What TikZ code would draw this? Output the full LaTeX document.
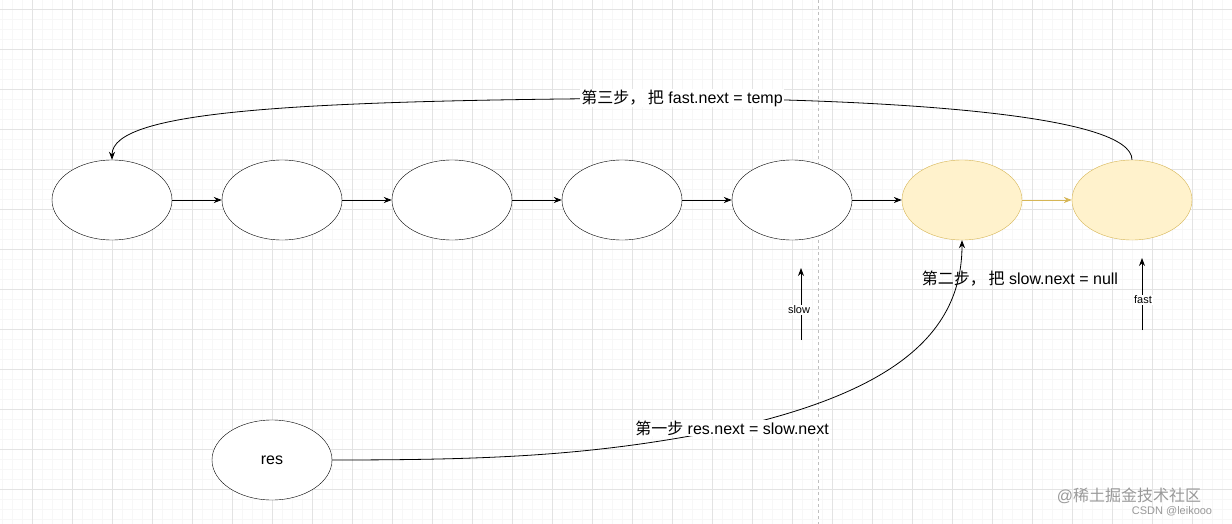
\documentclass[tikz,border=0pt]{standalone}
\usepackage{fontspec}
\setmainfont{Liberation Sans}
\newfontfamily\cjk{Noto Sans CJK SC}
\usetikzlibrary{arrows.meta,shapes.geometric}
\definecolor{yfill}{HTML}{FFF2CC}
\definecolor{ydraw}{HTML}{D6B656}
\begin{document}
\begin{tikzpicture}[x=1pt,y=-1pt,
  el/.style={draw=black,ellipse,minimum width=120pt,minimum height=80pt,inner sep=0pt,fill=white},
  yel/.style={el,draw=ydraw,fill=yfill},
  conn/.style={-{Stealth[length=8pt,width=6pt]},line width=0.8pt},
  lbl/.style={font=\fontsize{16}{18}\selectfont,fill=white,inner sep=1pt},
  sm/.style={font=\fontsize{11}{13}\selectfont,fill=white,inner sep=1pt}]
\useasboundingbox (0,0) rectangle (1232,524);
\fill[white] (0,0) rectangle (1232,524);
\foreach \i in {2,12,...,1232} \draw[black!3,line width=0.4pt] (\i,0) -- (\i,524);
\foreach \i in {9,19,...,524} \draw[black!3,line width=0.4pt] (0,\i) -- (1232,\i);
\foreach \i in {32,72,...,1232} \draw[black!11,line width=0.6pt] (\i,0) -- (\i,524);
\foreach \i in {9,49,...,524} \draw[black!11,line width=0.6pt] (0,\i) -- (1232,\i);
\draw[black!25,dashed,line width=0.5pt] (818,0) -- (818,524);
\node[el] (n1) at (112,200) {};
\node[el] (n2) at (282,200) {};
\node[el] (n3) at (452,200) {};
\node[el] (n4) at (622,200) {};
\node[el] (n5) at (792,200) {};
\node[yel] (n6) at (962,200) {};
\node[yel] (n7) at (1132,200) {};
\node[el] (res) at (272,460) {\fontsize{16}{18}\selectfont res};
\draw[conn] (n1) -- (n2);
\draw[conn] (n2) -- (n3);
\draw[conn] (n3) -- (n4);
\draw[conn] (n4) -- (n5);
\draw[conn] (n5) -- (n6);
\draw[conn,draw=ydraw] (n6) -- (n7);
\coordinate (t1) at (682,98);
\draw[conn] (n7.north) .. controls (1132,115) and (900,100) .. (t1) .. controls (300,100) and (112,110) .. (n1.north);
\node[lbl] at (t1) {{\cjk 第三步，\,把} fast.next = temp};
\coordinate (t2) at (732,428);
\draw[conn] (res.east) .. controls (500,460) and (600,455) .. (t2) .. controls (900,390) and (962,330) .. (n6.south);
\node[lbl] at (t2) {{\cjk 第一步} res.next = slow.next};
\node[lbl,fill=none] at (1020,279) {{\cjk 第二步，\,把} slow.next = null};
\coordinate (s0) at (801,340); \coordinate (s1) at (801,268);
\draw[conn] (s0) -- (s1);
\node[sm] at (799,310) {slow};
\coordinate (f0) at (1142,330); \coordinate (f1) at (1142,258);
\draw[conn] (f0) -- (f1);
\node[sm] at (1143,300) {fast};
\node[text=black!40,font=\fontsize{16}{18}\selectfont] at (1129,496) {@{\cjk 稀土掘金技术社区}};
\node[text=black!40,font=\fontsize{11}{13}\selectfont] at (1172,511) {CSDN @leikooo};
\end{tikzpicture}
\end{document}
